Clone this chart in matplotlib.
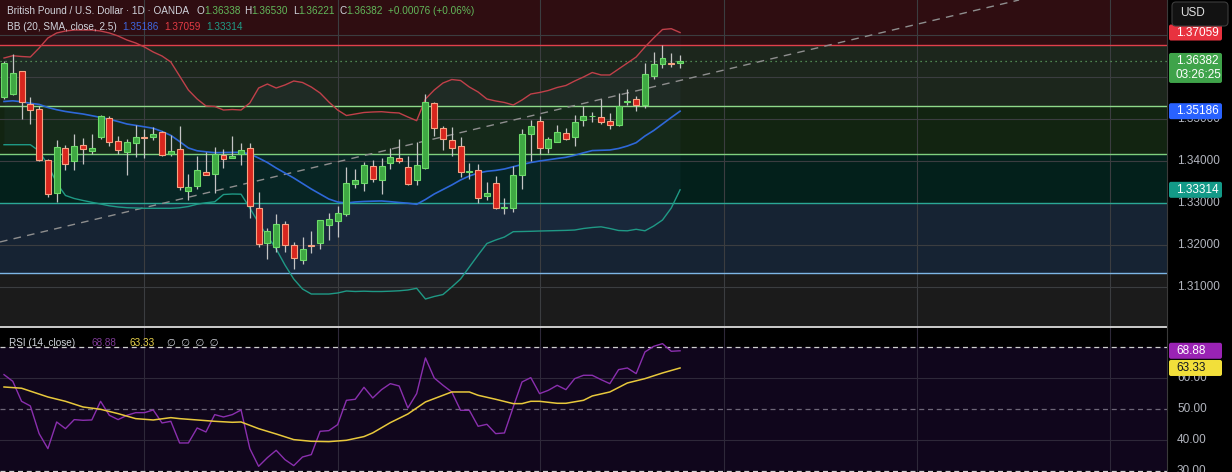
import numpy as np
import matplotlib
matplotlib.use("Agg")
import matplotlib.pyplot as plt
from matplotlib.patches import FancyBboxPatch
from matplotlib.transforms import IdentityTransform

# ---- data (GBP/USD daily, OANDA) ----
opens = [1.35532, 1.35587, 1.36135, 1.35349, 1.35230, 1.34016, 1.33246, 1.34302, 1.34008, 1.34373,
         1.34246, 1.34571, 1.35024, 1.34476, 1.34222, 1.34437, 1.34571, 1.34579, 1.34690, 1.34167,
         1.34286, 1.33294, 1.33405, 1.33730, 1.33698, 1.34151, 1.34079, 1.34167, 1.34302, 1.32873,
         1.32056, 1.31944, 1.32492, 1.31992, 1.31635, 1.31992, 1.32040, 1.32484, 1.32563, 1.32746,
         1.33460, 1.33484, 1.33873, 1.33540, 1.33944, 1.34063, 1.33865, 1.33540, 1.33841, 1.35373,
         1.34778, 1.34500, 1.34357, 1.33746, 1.33778, 1.33159, 1.33468, 1.32889, 1.32889, 1.33675,
         1.34651, 1.34944, 1.34302, 1.34460, 1.34659, 1.34563, 1.34968, 1.35063, 1.35040, 1.34952,
         1.34849, 1.35405, 1.35468, 1.35333, 1.36032, 1.36302, 1.36325, 1.36338]
highs = [1.36389, 1.36548, 1.36140, 1.35516, 1.35317, 1.34048, 1.34500, 1.34373, 1.34635, 1.34540,
         1.34635, 1.35087, 1.35063, 1.34587, 1.34516, 1.34857, 1.34762, 1.34802, 1.34722, 1.34611,
         1.34825, 1.33683, 1.34111, 1.34214, 1.34325, 1.34294, 1.34603, 1.34437, 1.34421, 1.33262,
         1.32397, 1.32738, 1.32571, 1.32079, 1.32190, 1.32333, 1.32595, 1.32754, 1.32929, 1.33849,
         1.33810, 1.33984, 1.34024, 1.34079, 1.34302, 1.34516, 1.34119, 1.34460, 1.35595, 1.35413,
         1.34833, 1.34802, 1.34563, 1.33944, 1.33921, 1.33492, 1.33651, 1.33111, 1.33881, 1.34762,
         1.34976, 1.35071, 1.34563, 1.34857, 1.34778, 1.35095, 1.35310, 1.35175, 1.35468, 1.35151,
         1.35627, 1.35706, 1.35548, 1.36325, 1.36587, 1.36762, 1.36563, 1.36530]
lows = [1.35476, 1.35571, 1.35000, 1.34873, 1.34000, 1.33151, 1.33032, 1.33794, 1.33778, 1.33929,
        1.34159, 1.34524, 1.34357, 1.34159, 1.33675, 1.34103, 1.34079, 1.34500, 1.34127, 1.34127,
        1.33310, 1.33079, 1.33325, 1.33659, 1.33246, 1.33841, 1.34063, 1.33905, 1.32635, 1.31944,
        1.31659, 1.31841, 1.31841, 1.31421, 1.31540, 1.31817, 1.31905, 1.32119, 1.32198, 1.32690,
        1.33365, 1.33294, 1.33508, 1.33222, 1.33802, 1.33944, 1.33437, 1.33437, 1.33810, 1.34603,
        1.34262, 1.34127, 1.33611, 1.33563, 1.33008, 1.33071, 1.32865, 1.32738, 1.32794, 1.33333,
        1.34008, 1.34167, 1.34198, 1.34452, 1.34500, 1.34365, 1.34841, 1.34921, 1.34881, 1.34754,
        1.34841, 1.35325, 1.35198, 1.35254, 1.35952, 1.36206, 1.36230, 1.36221]
closes = [1.36325, 1.36087, 1.35397, 1.35222, 1.34016, 1.33214, 1.34333, 1.33937, 1.34349, 1.34294,
          1.34302, 1.35063, 1.34460, 1.34270, 1.34444, 1.34563, 1.34556, 1.34635, 1.34151, 1.34238,
          1.33389, 1.33381, 1.33786, 1.33675, 1.34159, 1.34056, 1.34127, 1.34254, 1.32937, 1.32032,
          1.32325, 1.32492, 1.32000, 1.31683, 1.31905, 1.31968, 1.32587, 1.32611, 1.32762, 1.33468,
          1.33548, 1.33897, 1.33579, 1.33873, 1.34087, 1.34008, 1.33460, 1.33897, 1.35397, 1.34778,
          1.34516, 1.34302, 1.33746, 1.33762, 1.33127, 1.33238, 1.32873, 1.32905, 1.33667, 1.34643,
          1.34825, 1.34317, 1.34524, 1.34683, 1.34532, 1.34921, 1.35071, 1.35079, 1.34937, 1.34865,
          1.35317, 1.35429, 1.35325, 1.36071, 1.36310, 1.36452, 1.36310, 1.36382]

bb_upper = [1.36452, 1.36507, 1.36488, 1.36476, 1.36690, 1.36929, 1.37048, 1.37095, 1.37119, 1.37119,
            1.37119, 1.37095, 1.37048, 1.36976, 1.36881, 1.36810, 1.36714, 1.36595, 1.36500, 1.36357,
            1.36024, 1.35690, 1.35476, 1.35310, 1.35298, 1.35214, 1.35226, 1.35214, 1.35381, 1.35738,
            1.35833, 1.35738, 1.35810, 1.35905, 1.35869, 1.35762, 1.35619, 1.35405, 1.35214, 1.35083,
            1.35119, 1.35155, 1.35167, 1.35174, 1.35155, 1.35143, 1.35048, 1.34960, 1.35476, 1.35690,
            1.35857, 1.35940, 1.35917, 1.35762, 1.35643, 1.35476, 1.35429, 1.35393, 1.35333, 1.35452,
            1.35595, 1.35631, 1.35679, 1.35750, 1.35798, 1.35905, 1.36000, 1.36107, 1.36048, 1.36048,
            1.36190, 1.36333, 1.36476, 1.36714, 1.36929, 1.37131, 1.37150, 1.37059]
bb_basis = [1.35417, 1.35433, 1.35410, 1.35374, 1.35348, 1.35274, 1.35221, 1.35179, 1.35148, 1.35119,
            1.35079, 1.35038, 1.34993, 1.34940, 1.34881, 1.34848, 1.34814, 1.34779, 1.34705, 1.34610,
            1.34464, 1.34310, 1.34243, 1.34219, 1.34198, 1.34202, 1.34205, 1.34207, 1.34167, 1.34071,
            1.33964, 1.33833, 1.33714, 1.33595, 1.33464, 1.33333, 1.33214, 1.33095, 1.33024, 1.33000,
            1.33024, 1.33036, 1.33043, 1.33048, 1.33031, 1.33012, 1.32995, 1.32969, 1.33083, 1.33214,
            1.33321, 1.33429, 1.33548, 1.33643, 1.33714, 1.33755, 1.33776, 1.33810, 1.33864, 1.33917,
            1.33964, 1.34000, 1.34029, 1.34060, 1.34088, 1.34136, 1.34195, 1.34248, 1.34255, 1.34262,
            1.34298, 1.34357, 1.34436, 1.34595, 1.34726, 1.34881, 1.35036, 1.35186]
bb_lower = [1.34388, 1.34388, 1.34388, 1.34388, 1.34238, 1.33905, 1.33476, 1.33179, 1.33107, 1.33060,
            1.33017, 1.32976, 1.32933, 1.32905, 1.32888, 1.32881, 1.32874, 1.32874, 1.32874, 1.32874,
            1.32886, 1.32917, 1.32971, 1.33005, 1.33029, 1.33202, 1.33214, 1.33210, 1.32881, 1.32524,
            1.32214, 1.31905, 1.31524, 1.31190, 1.30952, 1.30833, 1.30833, 1.30833, 1.30857, 1.30905,
            1.30893, 1.30900, 1.30893, 1.30893, 1.30900, 1.30910, 1.30929, 1.30969, 1.30714, 1.30774,
            1.30821, 1.31000, 1.31190, 1.31476, 1.31762, 1.32036, 1.32119, 1.32190, 1.32317, 1.32321,
            1.32326, 1.32333, 1.32338, 1.32343, 1.32348, 1.32357, 1.32393, 1.32417, 1.32433, 1.32393,
            1.32345, 1.32338, 1.32374, 1.32338, 1.32452, 1.32595, 1.32881, 1.33314]

rsi = [61.18, 59.03, 52.58, 51.08, 42.15, 37.31, 45.91, 43.76, 46.67, 46.45,
       46.56, 52.58, 48.06, 46.67, 48.06, 48.92, 48.92, 49.78, 45.59, 46.13,
       39.14, 39.14, 43.98, 42.69, 48.28, 47.53, 48.28, 49.78, 37.31, 31.61,
       34.41, 36.77, 33.76, 31.83, 34.62, 35.38, 42.90, 43.12, 45.05, 52.90,
       53.23, 57.10, 53.66, 56.34, 58.28, 57.53, 50.43, 55.05, 66.56, 60.11,
       57.74, 55.59, 49.68, 49.68, 44.52, 45.16, 42.15, 42.37, 50.75, 58.82,
       60.22, 55.05, 56.13, 57.74, 56.34, 59.89, 60.97, 60.97, 59.57, 58.28,
       62.80, 63.33, 61.51, 68.49, 70.32, 71.18, 68.71, 68.88]
rsi_ma_idx = [0, 2, 5, 7, 9, 11, 13, 15, 17, 19, 20, 22, 24, 26, 27, 29, 31, 33, 35, 37,
              39, 41, 42, 44, 46, 48, 50, 51, 53, 54, 56, 58, 59, 60, 61, 63, 64, 66, 67, 69,
              71, 73, 75, 77]
rsi_ma = [57.20, 56.80, 53.98, 52.58, 50.75, 50.00, 48.60, 46.99, 46.56, 47.31, 46.99, 46.56,
          46.13, 45.81, 45.91, 43.76, 42.04, 40.22, 39.68, 39.57, 40.00, 41.20, 42.40, 45.70,
          48.49, 52.37, 54.52, 55.59, 55.59, 54.52, 53.23, 51.83, 51.83, 52.58, 52.58, 51.94,
          51.94, 52.90, 54.30, 55.59, 58.49, 59.89, 61.72, 63.33]

# horizontal zones drawn on the chart (price levels)
zone_levels = [1.36769, 1.35317, 1.34160, 1.32993, 1.31340]
zone_fills = ["#2f0d11", "#1c261c", "#122411", "#03201b", "#162333"]
zone_lines = ["#e0404b", "#8fd98a", "#7fd07f", "#2aa896", "#7db6e6"]
trend_pts = [(0, 1.32095), (77, 1.35917)]
month_idx = [16, 38, 61, 82, 104, 126]
price_grid = [1.31, 1.32, 1.33, 1.34, 1.35, 1.36, 1.37]
price_labels = [1.31, 1.32, 1.33, 1.34, 1.35]   # 1.36 / 1.37 sit under the tags
rsi_ticks = [30, 40, 50, 60]
symbol_text = "British Pound / U.S. Dollar · 1D · OANDA"
change_text = "+0.00076 (+0.06%)"
countdown = "03:26:25"

W, H = 1232, 472
FONT = ["Liberation Sans", "DejaVu Sans"]
WHITE = "#d1d4dc"
GREEN_TXT = "#62b85a"

fig = plt.figure(figsize=(W / 100, H / 100), dpi=100, facecolor="#000000")
ax = fig.add_axes([0, 146 / H, 1167 / W, 326 / H])
axr = fig.add_axes([0, 0, 1167 / W, 145 / H])

x_lo = -4 / 8.78
x_hi = (1167 - 4) / 8.78
for a in (ax, axr):
    a.set_xlim(x_lo, x_hi)
    a.set_axis_off()
ax.set_ylim(1.34 - 165 / 4200, 1.34 + 161 / 4200)
axr.set_ylim(50 - 62.7 / 3.1, 50 + 82.3 / 3.1)

# ---- main pane background zones ----
ax.axhspan(1.2, 1.5, color="#1b1b1b", zorder=0)
tops = [1.5] + zone_levels[:-1]
for top, bot, fc in zip(tops, zone_levels, zone_fills):
    ax.axhspan(bot, top, color=fc, zorder=0.1, lw=0)

idx = np.arange(len(closes))
ax.fill_between(idx, bb_lower, bb_upper, color="#5f8fd0", alpha=0.05, lw=0, zorder=0.3)

for p in price_grid:
    ax.axhline(p, color="#3b3d40", lw=0.8, zorder=0.5)
for m in month_idx:
    ax.axvline(m, color="#3b3d40", lw=0.8, zorder=0.5)
    axr.axvline(m, color="#2e2839", lw=0.8, zorder=0.5)

for lvl, lc in zip(zone_levels, zone_lines):
    ax.axhline(lvl, color=lc, lw=1.0, zorder=1)

ax.axhline(closes[-1], color="#5fa863", lw=0.9, ls=(0, (1, 3)), zorder=1.2)
ax.axline(trend_pts[0], trend_pts[1], color="#8e8e8e", lw=1.0, ls=(0, (5.5, 4.5)), zorder=1.5)

ax.plot(idx, bb_upper, color="#c0404a", lw=1.0, zorder=2)
ax.plot(idx, bb_basis, color="#2e68d8", lw=1.2, zorder=2)
ax.plot(idx, bb_lower, color="#1f9985", lw=1.0, zorder=2)

# ---- candles ----
o = np.array(opens); hi = np.array(highs); lo = np.array(lows); c = np.array(closes)
up = c >= o
body_lo = np.minimum(o, c)
body_h = np.maximum(np.abs(c - o), 0.00004)
ax.vlines(idx, lo, hi, color="#c4c4c4", lw=0.9, zorder=3)
ax.bar(idx[up], body_h[up], bottom=body_lo[up], width=0.68,
       color="#3fa843", edgecolor="#6ddb6a", lw=0.8, zorder=4)
ax.bar(idx[~up], body_h[~up], bottom=body_lo[~up], width=0.68,
       color="#d8261e", edgecolor="#f7a383", lw=0.8, zorder=4)

# ---- RSI pane ----
axr.axhspan(30, 70, color="#10061c", lw=0, zorder=0.1)
for lv in (60, 40):
    axr.axhline(lv, color="#2e2839", lw=0.8, zorder=0.5)
axr.axhline(70, color="#cfcfcf", lw=0.9, ls=(0, (4, 3)), zorder=1)
axr.axhline(50, color="#6e6678", lw=0.9, ls=(0, (4, 3)), zorder=1)
axr.axhline(30, color="#cfcfcf", lw=0.9, ls=(0, (4, 3)), zorder=1)
axr.plot(idx, rsi, color="#8a2fae", lw=1.0, zorder=2)
axr.plot(rsi_ma_idx, rsi_ma, color="#e8c83c", lw=1.1, zorder=3)

# ---- separators ----
fig.add_artist(plt.Line2D([0, 1167 / W], [1 - 326.8 / H] * 2, color="#dcdcdc", lw=1.3,
                          transform=fig.transFigure))
fig.add_artist(plt.Line2D([1167 / W] * 2, [0, 1], color="#3a3a3a", lw=0.8,
                          transform=fig.transFigure))


def ypix(a, v):
    return H - a.transData.transform((0, v))[1]


def ftext(x, y, s, color, size=7.2, **kw):
    return fig.text(x / W, 1 - y / H, s, color=color, fontsize=size, family=FONT,
                    va="center", ha="left", **kw)


def chain(x, y, parts, size=7.2, gap=0):
    prev = ftext(x, y, parts[0][0], parts[0][1], size)
    for s, col in parts[1:]:
        prev = ax.annotate(s, xy=(1, 0.5), xycoords=prev, xytext=(gap, 0),
                           textcoords="offset pixels", va="center", ha="left",
                           color=col, fontsize=size, family=FONT, annotation_clip=False)
    return prev


def tag(y, text, fc, tc="white", h=16, extra=None):
    top = y - 8
    hh = h if extra is None else 30
    fig.add_artist(FancyBboxPatch((1169, H - top - hh), 53, hh,
                                  boxstyle="round,pad=0,rounding_size=2",
                                  transform=IdentityTransform(), fc=fc, ec="none", zorder=5))
    ftext(1176, y, text, tc, 8.5, zorder=6)
    if extra is not None:
        ftext(1176, y + 14, extra, tc, 8.5, zorder=6)


# legend lines
ftext(7.3, 11, symbol_text, WHITE)
chain(196.7, 11, [("O", WHITE), (f"{opens[-1]:.5f}", GREEN_TXT)])
chain(244.3, 11, [("H", WHITE), (f"{highs[-1]:.5f}", GREEN_TXT)])
chain(292.7, 11, [("L", WHITE), (f"{lows[-1]:.5f}", GREEN_TXT)])
chain(339.3, 11, [("C", WHITE), (f"{closes[-1]:.5f}", GREEN_TXT)])
ftext(387.7, 11, change_text, GREEN_TXT)

ftext(7.3, 27.3, "BB (20, SMA, close, 2.5)", WHITE)
ftext(122.7, 27.3, f"{bb_basis[-1]:.5f}", "#3f67e0")
ftext(164, 27.3, f"{bb_upper[-1]:.5f}", "#e23b44")
ftext(206, 27.3, f"{bb_lower[-1]:.5f}", "#1f9c87")

ftext(9, 343.3, "RSI (14, close)", WHITE)
ftext(91.5, 343.3, f"{rsi[-1]:.2f}", "#7e3a96")
ftext(129.5, 343.3, f"{rsi_ma[-1]:.2f}", "#e9d24a")
ftext(167, 343.3, "∅  ∅  ∅  ∅", WHITE)

# price scale
for p in price_labels:
    ftext(1177, ypix(ax, p), f"{p:.5f}", "#b2b5be", 8.5)
for v in rsi_ticks:
    ftext(1177, ypix(axr, v), f"{v:.2f}", "#b2b5be", 8.5)

tag(ypix(ax, bb_upper[-1]), f"{bb_upper[-1]:.5f}", "#e8323f")
tag(ypix(ax, closes[-1]), f"{closes[-1]:.5f}", "#3fa34a", extra=countdown)
tag(ypix(ax, bb_basis[-1]), f"{bb_basis[-1]:.5f}", "#2962ff")
tag(ypix(ax, bb_lower[-1]), f"{bb_lower[-1]:.5f}", "#139a88")
tag(ypix(axr, rsi[-1]), f"{rsi[-1]:.2f}", "#9a23b4")
tag(ypix(axr, rsi_ma[-1]), f"{rsi_ma[-1]:.2f}", "#f2df3a", tc="#131722")

# currency button
fig.add_artist(FancyBboxPatch((1172, H - 26), 56, 24, boxstyle="round,pad=0,rounding_size=4",
                              transform=IdentityTransform(), fc="#121212", ec="#3c3c3c",
                              lw=0.8, zorder=7))
ftext(1180, 13.5, "USD", "#e0e0e0", 8.5, zorder=8)

fig.savefig("out.png", dpi=100, facecolor=fig.get_facecolor())
